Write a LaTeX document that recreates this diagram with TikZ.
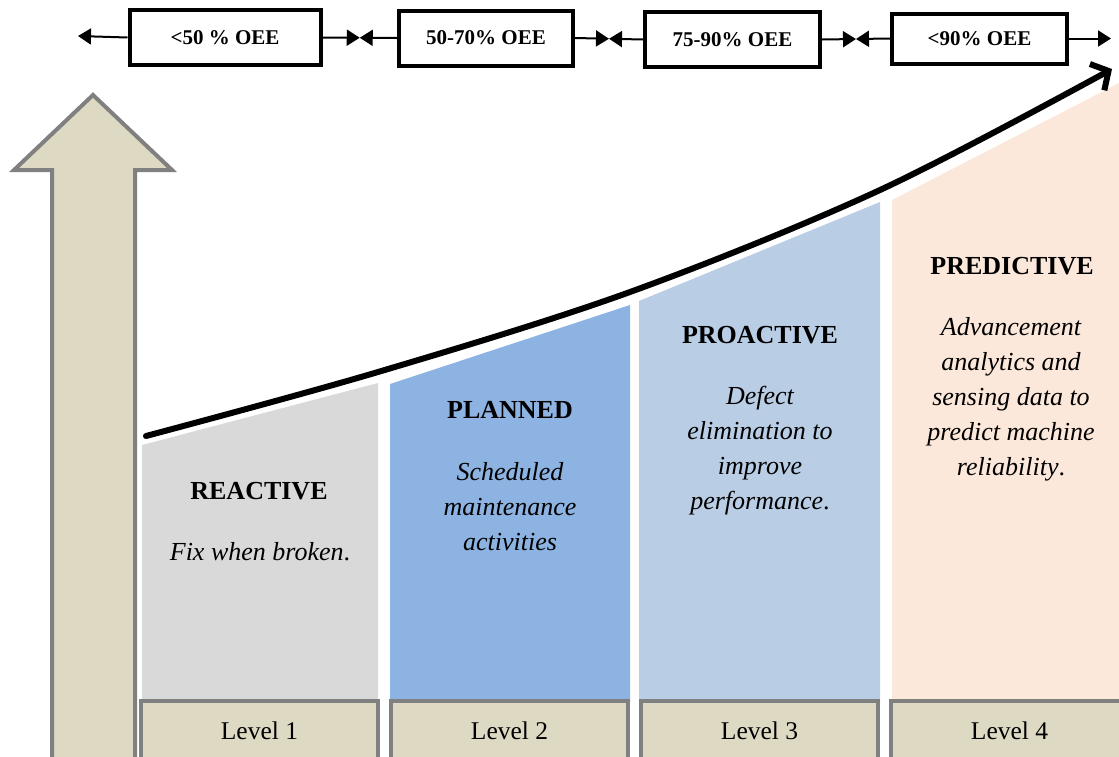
\documentclass[tikz,border=0pt]{standalone}
\usepackage{fontspec}
\setmainfont{Liberation Serif}
\usetikzlibrary{arrows.meta,calc}

\definecolor{beige}{HTML}{DDD9C3}
\definecolor{rimgray}{HTML}{808080}
\definecolor{colA}{HTML}{D9D9D9}
\definecolor{colB}{HTML}{8DB3E2}
\definecolor{colC}{HTML}{B9CDE5}
\definecolor{colD}{HTML}{FCE8DA}

\begin{document}
\begin{tikzpicture}[x=1pt,y=-1pt,
  oeebox/.style={draw=black, line width=4pt, fill=white, inner sep=0pt,
    minimum height=55pt, font=\fontsize{21}{24}\selectfont\bfseries},
  levelbox/.style={draw=rimgray, fill=beige, line width=4pt, inner sep=0pt,
    minimum width=237pt, minimum height=59pt, font=\fontsize{25.5}{30}\selectfont},
  title/.style={inner sep=0pt, font=\fontsize{26}{30}\selectfont\bfseries},
  body/.style={inner sep=0pt, align=center, font=\fontsize{26}{35}\selectfont\itshape},
  link/.style={line width=2pt, -{Triangle[length=13pt,width=16pt]}},
  trend/.style={line width=6pt, line cap=round, -{Straight Barb[length=13pt,width=30pt]}}
]
\useasboundingbox (0,0) rectangle (1119,756);

% rising maintenance levels
\fill[colA] (142,445) -- (378,383) -- (378,702) -- (142,702) -- cycle;
\fill[colB] (390,384) -- (630,305) -- (630,702) -- (390,702) -- cycle;
\fill[colC] (639,301) -- (880,202) -- (880,702) -- (639,702) -- cycle;
\fill[colD] (892,200) -- (1125,80) -- (1125,702) -- (892,702) -- cycle;

% large upward arrow on the left
\draw[fill=beige, draw=rimgray, line width=4pt]
  (52,765) -- (52,170) -- (14,170) -- (93,95) -- (172,170) -- (135,170) -- (135,765) -- cycle;

% level labels at the bottom
\node[levelbox] (l1) at (259.5,730.5) {Level 1};
\node[levelbox] (l2) at (509.5,730.5) {Level 2};
\node[levelbox] (l3) at (759.5,730.5) {Level 3};
\node[levelbox] (l4) at (1009.5,730.5) {Level 4};

% titles and descriptions
\node[title] (t1) at (259,491) {REACTIVE};
\node[body]  (d1) at (260,552) {Fix when broken{\upshape .}};
\node[title] (t2) at (510,410) {PLANNED};
\node[body]  (d2) at (510,507) {Scheduled\\maintenance\\activities};
\node[title] (t3) at (760,335) {PROACTIVE};
\node[body]  (d3) at (760,451) {Defect\\elimination to\\improve\\performance{\upshape .}};
\node[title] (t4) at (1012,266) {PREDICTIVE};
\node[body]  (d4) at (1011,399) {Advancement\\analytics and\\sensing data to\\predict machine\\reliability{\upshape .}};

% trend curve
\coordinate (c0) at (146,436);
\coordinate (c1) at (378,372);
\coordinate (c2) at (630,292);
\coordinate (c3) at (880,190);
\coordinate (c4) at (1112,69);
\draw[trend] plot[smooth, tension=0.55] coordinates {(c0) (c1) (c2) (c3) (c4)};

% OEE scale along the top
\node[oeebox, minimum width=191pt] (b1) at (225,37.5) {<50 \% OEE};
\node[oeebox, minimum width=174pt] (b2) at (486,38) {50-70\% OEE};
\node[oeebox, minimum width=175pt] (b3) at (732.5,39.5) {75-90\% OEE};
\node[oeebox, minimum width=175pt, minimum height=50pt] (b4) at (979.5,38.5) {<90\% OEE};

\coordinate (m1) at ($(b1.east)!0.5!(b2.west)$);
\coordinate (m2) at ($(b2.east)!0.5!(b3.west)$);
\coordinate (m3) at ($(b3.east)!0.5!(b4.west)$);
\coordinate (endL) at (78,36);
\coordinate (endR) at (1111,38.5);

\draw[link] (b1.west) -- (endL);
\draw[link] (b1.east) -- (m1);
\draw[link] (b2.west) -- (m1);
\draw[link] (b2.east) -- (m2);
\draw[link] (b3.west) -- (m2);
\draw[link] (b3.east) -- (m3);
\draw[link] (b4.west) -- (m3);
\draw[link] (b4.east) -- (endR);
\end{tikzpicture}
\end{document}
